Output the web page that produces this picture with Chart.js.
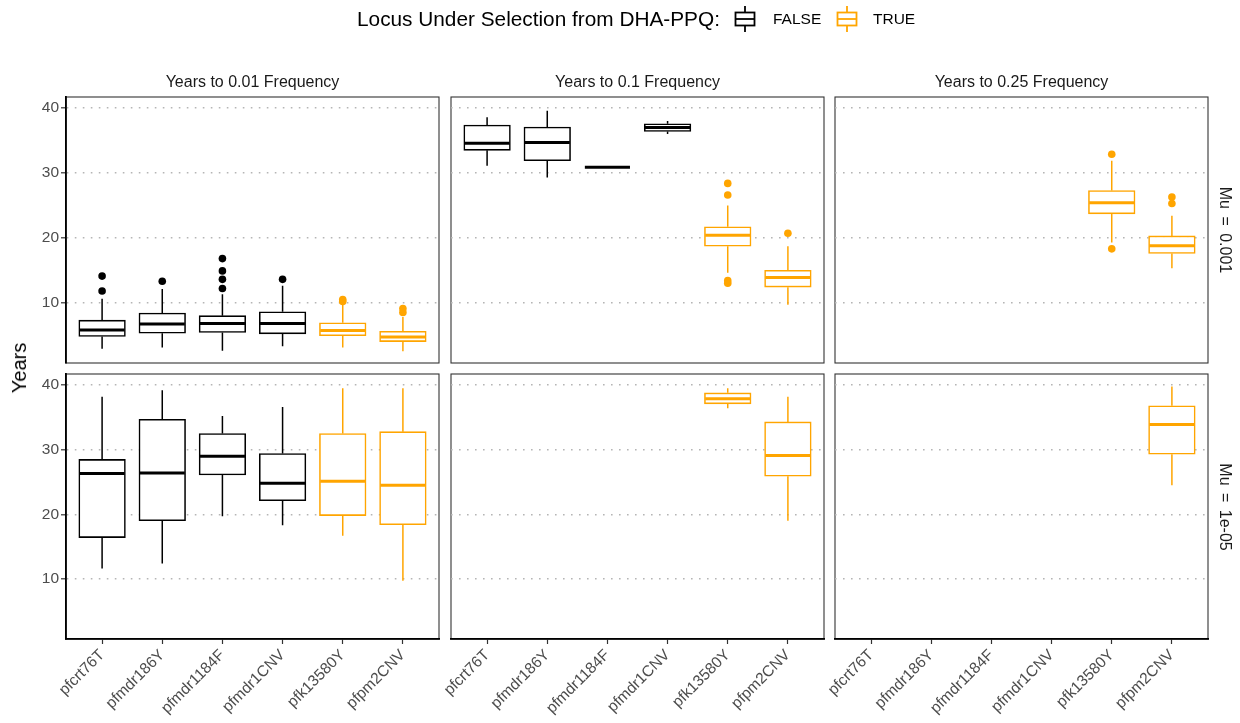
<!DOCTYPE html>
<html>
<head>
<meta charset="utf-8">
<script src="https://cdn.jsdelivr.net/npm/chart.js@4.4.1/dist/chart.umd.min.js"></script>
<style>
  body { margin: 0; background: #fff; font-family: "Liberation Sans", Arial, Helvetica, sans-serif; }
  #page { position: relative; width: 1240px; height: 723px; overflow: hidden; background: #fff; }
  #page canvas { position: absolute; left: 0; top: 0; }
  .txt { position: absolute; white-space: nowrap; line-height: 1; }
</style>
</head>
<body>
<div id="page"></div>
<script>
const loci = ['pfcrt76T', 'pfmdr186Y', 'pfmdr1184F', 'pfmdr1CNV', 'pfk13580Y', 'pfpm2CNV']
const underSelection = [false, false, false, false, true, true]
const freqLabels = ['Years to 0.01 Frequency', 'Years to 0.1 Frequency', 'Years to 0.25 Frequency']
const muLabels = ['Mu = 0.001', 'Mu = 1e-05']
const yTicks = [10, 20, 30, 40]
const legendTitle = 'Locus Under Selection from DHA-PPQ:'
const legendLabels = ['FALSE', 'TRUE']

// [lower whisker, Q1, median, Q3, upper whisker] per locus, null = never reached
const mu3_f001 = [
  [2.9, 4.8, 5.8, 7.3, 10.6],
  [3.1, 5.3, 6.7, 8.4, 12.1],
  [2.6, 5.4, 6.8, 8.0, 11.3],
  [3.3, 5.2, 6.8, 8.6, 12.6],
  [3.1, 4.9, 5.7, 6.9, 9.8],
  [2.5, 4.0, 4.7, 5.6, 7.8]
]
const mu3_f01 = [
  [31.1, 33.5, 34.6, 37.4, 38.6],
  [29.3, 31.9, 34.7, 37.1, 39.6],
  [30.9, 30.9, 30.9, 30.9, 30.9],
  [36.0, 36.4, 37.0, 37.6, 38.0],
  [14.6, 18.7, 20.4, 21.7, 25.0],
  [9.7, 12.4, 13.9, 15.0, 18.7]
]
const mu3_f025 = [null, null, null, null,
  [19.3, 23.7, 25.4, 27.3, 31.9],
  [15.3, 17.6, 18.8, 20.3, 23.4]
]
const mu5_f001 = [
  [11.6, 16.4, 26.3, 28.5, 38.2],
  [12.4, 19.0, 26.4, 34.7, 39.2],
  [19.7, 26.1, 29.0, 32.5, 35.2],
  [18.3, 22.1, 24.8, 29.4, 36.6],
  [16.7, 19.8, 25.1, 32.5, 39.5],
  [9.7, 18.4, 24.5, 32.8, 39.5]
]
const mu5_f01 = [null, null, null, null,
  [36.4, 37.1, 37.9, 38.8, 39.5],
  [19.0, 25.9, 29.1, 34.3, 38.2]
]
const mu5_f025 = [null, null, null, null, null,
  [24.5, 29.3, 33.9, 36.8, 39.8]
]

// outliers: [locus index, years]
const mu3_f001_out = [[0, 14.1], [0, 11.8], [1, 13.3], [2, 16.8], [2, 14.9], [2, 13.6], [2, 12.2],
  [3, 13.6], [4, 10.5], [4, 10.2], [5, 9.1], [5, 8.5]]
const mu3_f01_out = [[4, 28.4], [4, 26.6], [4, 13.4], [4, 13.0], [5, 20.7]]
const mu3_f025_out = [[4, 32.9], [4, 18.3], [5, 26.3], [5, 25.3]]
const mu5_f001_out = []
const mu5_f01_out = []
const mu5_f025_out = []

const panels = [
  [[mu3_f001, mu3_f001_out], [mu3_f01, mu3_f01_out], [mu3_f025, mu3_f025_out]],
  [[mu5_f001, mu5_f001_out], [mu5_f01, mu5_f01_out], [mu5_f025, mu5_f025_out]]
]

const FONT = '"Liberation Sans", Arial, Helvetica, sans-serif'
const COL_FALSE = '#000000'
const COL_TRUE = '#FFA500'
const colLeft = [66, 451, 835]
const colRight = [439, 824, 1208]
const rowTop = [97, 374]
const rowBottom = [363, 639]
const Y_MIN = 0.7
const Y_MAX = 41.72
const Y_AXIS_W = 66
const X_AXIS_H = 84

const page = document.getElementById('page')

Chart.defaults.font.family = FONT
Chart.defaults.animation = false

function lineColour(i) {
  return underSelection[i] ? COL_TRUE : COL_FALSE
}

function pointColour(ctx) {
  return ctx.raw ? lineColour(ctx.raw.x) : COL_FALSE
}

// whiskers, medians and panel frame, placed with the chart's scales
function boxPlugin(stats) {
  return {
    id: 'boxes',
    beforeDraw(chart) {
      const { ctx, chartArea: a } = chart
      ctx.save()
      ctx.strokeStyle = '#333333'
      ctx.lineWidth = 1.1
      ctx.strokeRect(a.left, a.top, a.right - a.left, a.bottom - a.top)
      ctx.restore()
    },
    afterDatasetsDraw(chart) {
      const { ctx } = chart
      const xs = chart.scales.x
      const ys = chart.scales.y
      const half = (xs.getPixelForValue(1) - xs.getPixelForValue(0)) * 0.375
      stats.forEach((s, i) => {
        if (!s) return
        const [lo, q1, med, q3, hi] = s
        const cx = xs.getPixelForValue(i)
        ctx.save()
        ctx.strokeStyle = lineColour(i)
        ctx.lineWidth = 1.5
        ctx.beginPath()
        ctx.moveTo(cx, ys.getPixelForValue(hi))
        ctx.lineTo(cx, ys.getPixelForValue(q3))
        ctx.moveTo(cx, ys.getPixelForValue(q1))
        ctx.lineTo(cx, ys.getPixelForValue(lo))
        ctx.stroke()
        ctx.lineWidth = 3
        ctx.beginPath()
        ctx.moveTo(cx - half, ys.getPixelForValue(med))
        ctx.lineTo(cx + half, ys.getPixelForValue(med))
        ctx.stroke()
        ctx.restore()
      })
    }
  }
}

function makePanel(r, c) {
  const [stats, outliers] = panels[r][c]
  const canvas = document.createElement('canvas')
  canvas.width = 1240
  canvas.height = 723
  page.appendChild(canvas)

  const showX = r === 1
  const showY = c === 0
  const spacing = (colRight[c] - colLeft[c]) / 6.2

  const boxData = []
  stats.forEach((s, i) => {
    if (s) boxData.push({ x: i, y: [s[1], s[3]] })
  })

  new Chart(canvas, {
    type: 'bar',
    data: {
      datasets: [
        {
          type: 'bar',
          data: boxData,
          backgroundColor: '#ffffff',
          borderColor: pointColour,
          borderWidth: 1.6,
          borderSkipped: false,
          barThickness: spacing * 0.75 + 1.5
        },
        {
          type: 'scatter',
          data: outliers.map(([i, v]) => ({ x: i, y: v })),
          pointRadius: 3.8,
          pointBorderWidth: 0,
          pointBackgroundColor: pointColour,
          pointBorderColor: pointColour
        }
      ]
    },
    options: {
      responsive: false,
      animation: false,
      layout: {
        padding: {
          left: colLeft[c] - (showY ? Y_AXIS_W : 0),
          right: 1240 - colRight[c],
          top: rowTop[r],
          bottom: 723 - rowBottom[r] - (showX ? X_AXIS_H : 0)
        }
      },
      plugins: {
        legend: { display: false },
        tooltip: { enabled: false }
      },
      scales: {
        x: {
          type: 'linear',
          offset: false,
          min: -0.6,
          max: 5.6,
          afterBuildTicks: s => { s.ticks = loci.map((_, i) => ({ value: i })) },
          afterFit: s => { s.height = showX ? X_AXIS_H : 0 },
          ticks: {
            display: showX,
            autoSkip: false,
            minRotation: 45,
            maxRotation: 45,
            padding: 2,
            color: '#4D4D4D',
            font: { size: 15.5 },
            callback: v => loci[v]
          },
          grid: {
            offset: false,
            drawOnChartArea: false,
            drawTicks: showX,
            tickLength: 5,
            tickColor: '#333333',
            tickWidth: 1.2
          },
          border: { display: showX, color: '#000000', width: 1.8 }
        },
        y: {
          type: 'linear',
          min: Y_MIN,
          max: Y_MAX,
          afterBuildTicks: s => { s.ticks = yTicks.map(v => ({ value: v })) },
          afterFit: s => { s.width = showY ? Y_AXIS_W : 0 },
          ticks: {
            display: showY,
            padding: 2,
            color: '#4D4D4D',
            font: { size: 15.5 }
          },
          grid: {
            color: '#B5B5B5',
            lineWidth: 1.6,
            drawTicks: showY,
            tickLength: 5,
            tickColor: '#333333',
            tickWidth: 1.2
          },
          border: { display: showY, color: '#000000', width: 1.8, dash: [1.6, 6.4] }
        }
      }
    },
    plugins: [boxPlugin(stats)]
  })
}

for (let r = 0; r < 2; r++) {
  for (let c = 0; c < 3; c++) makePanel(r, c)
}

function addText(str, css) {
  const d = document.createElement('div')
  d.className = 'txt'
  d.textContent = str
  Object.assign(d.style, css)
  page.appendChild(d)
  return d
}

// facet strips
freqLabels.forEach((t, c) => {
  addText(t, {
    left: ((colLeft[c] + colRight[c]) / 2) + 'px', top: '82px',
    transform: 'translate(-50%, -50%)', fontSize: '16px', color: '#1A1A1A'
  })
})
muLabels.forEach((t, r) => {
  addText(t, {
    left: '1225px', top: ((rowTop[r] + rowBottom[r]) / 2) + 'px',
    transform: 'translate(-50%, -50%) rotate(90deg)', fontSize: '16px', color: '#1A1A1A',
    wordSpacing: '3px'
  })
})

// y axis title
addText('Years', {
  left: '19px', top: ((rowTop[0] + rowBottom[1]) / 2) + 'px',
  transform: 'translate(-50%, -50%) rotate(-90deg)', fontSize: '20px', color: '#000'
})

// legend
addText(legendTitle, { left: '357px', top: '19px', transform: 'translateY(-50%)', fontSize: '20.8px', color: '#000' })

function keyGlyph(left, colour) {
  const ns = 'http://www.w3.org/2000/svg'
  const svg = document.createElementNS(ns, 'svg')
  svg.setAttribute('width', '24')
  svg.setAttribute('height', '26')
  svg.style.position = 'absolute'
  svg.style.left = left + 'px'
  svg.style.top = '6px'
  svg.innerHTML =
    `<line x1="12" y1="0" x2="12" y2="6" stroke="${colour}" stroke-width="1.8"/>` +
    `<line x1="12" y1="20" x2="12" y2="26" stroke="${colour}" stroke-width="1.8"/>` +
    `<rect x="2.5" y="6.5" width="19" height="13" fill="#fff" stroke="${colour}" stroke-width="1.8"/>` +
    `<line x1="2.5" y1="13" x2="21.5" y2="13" stroke="${colour}" stroke-width="1.8"/>`
  page.appendChild(svg)
}
keyGlyph(733, COL_FALSE)
addText(legendLabels[0], { left: '773px', top: '19px', transform: 'translateY(-50%)', fontSize: '15.5px', color: '#000' })
keyGlyph(835, COL_TRUE)
addText(legendLabels[1], { left: '873px', top: '19px', transform: 'translateY(-50%)', fontSize: '15.5px', color: '#000' })
</script>
</body>
</html>
